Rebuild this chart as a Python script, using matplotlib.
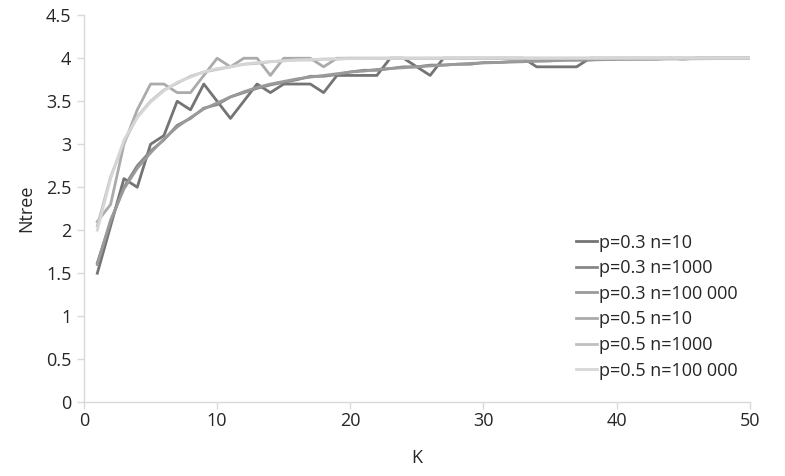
import matplotlib
matplotlib.use("Agg")
import matplotlib.pyplot as plt
from matplotlib.ticker import FuncFormatter, MultipleLocator

plt.rcParams["font.family"] = ["Open Sans", "DejaVu Sans"]

k = list(range(1, 51))

p03_n10 = [1.5, 2.05, 2.6, 2.5, 3.0, 3.1, 3.5, 3.4, 3.7, 3.5,
           3.3, 3.5, 3.7, 3.6, 3.7, 3.7, 3.7, 3.6, 3.8, 3.8,
           3.8, 3.8, 4.0, 4.0, 3.9, 3.8, 4.0, 4.0, 4.0, 4.0,
           4.0, 4.0, 4.0, 3.9, 3.9, 3.9, 3.9, 4.0, 4.0, 4.0,
           4.0, 4.0, 4.0, 4.0, 4.0, 4.0, 4.0, 4.0, 4.0, 4.0]
p03_n1000 = [1.62, 2.1, 2.5, 2.75, 2.92, 3.05, 3.22, 3.3, 3.42, 3.46,
             3.55, 3.6, 3.65, 3.69, 3.72, 3.75, 3.79, 3.79, 3.81, 3.84,
             3.86, 3.86, 3.88, 3.9, 3.9, 3.92, 3.92, 3.93, 3.93, 3.95,
             3.95, 3.96, 3.96, 3.97, 3.97, 3.98, 3.98, 3.98, 3.99, 3.99,
             3.99, 3.99, 3.99, 4.0, 3.99, 4.0, 4.0, 4.0, 4.0, 4.0]
p03_n100000 = [1.6, 2.12, 2.48, 2.72, 2.9, 3.06, 3.2, 3.31, 3.41, 3.48,
               3.55, 3.61, 3.66, 3.7, 3.73, 3.76, 3.78, 3.8, 3.82, 3.84,
               3.85, 3.87, 3.88, 3.89, 3.9, 3.91, 3.92, 3.93, 3.94, 3.945,
               3.95, 3.955, 3.96, 3.965, 3.97, 3.975, 3.978, 3.98, 3.983, 3.986,
               3.988, 3.99, 3.991, 3.992, 3.993, 3.994, 3.995, 3.996, 3.996, 3.997]
p05_n10 = [2.1, 2.3, 3.0, 3.4, 3.7, 3.7, 3.6, 3.6, 3.8, 4.0,
           3.9, 4.0, 4.0, 3.8, 4.0, 4.0, 4.0, 3.9, 4.0, 4.0,
           4.0, 4.0, 4.0, 4.0, 4.0, 4.0, 4.0, 4.0, 4.0, 4.0,
           4.0, 4.0, 4.0, 4.0, 4.0, 4.0, 4.0, 4.0, 4.0, 4.0,
           4.0, 4.0, 4.0, 4.0, 4.0, 4.0, 4.0, 4.0, 4.0, 4.0]
p05_n1000 = [2.05, 2.62, 3.02, 3.32, 3.5, 3.63, 3.71, 3.79, 3.84, 3.87,
             3.9, 3.93, 3.94, 3.96, 3.97, 3.98, 3.98, 3.99, 3.99, 4.0,
             4.0, 4.0, 4.0, 4.0, 4.0, 4.0, 4.0, 4.0, 4.0, 4.0,
             4.0, 4.0, 4.0, 4.0, 4.0, 4.0, 4.0, 4.0, 4.0, 4.0,
             4.0, 4.0, 4.0, 4.0, 4.0, 4.0, 4.0, 4.0, 4.0, 4.0]
p05_n100000 = [2.0, 2.6, 3.05, 3.31, 3.49, 3.62, 3.72, 3.78, 3.84, 3.88,
               3.9, 3.93, 3.95, 3.96, 3.97, 3.98, 3.985, 3.99, 3.992, 3.995,
               3.996, 3.997, 3.998, 3.998, 3.999, 4.0, 4.0, 4.0, 4.0, 4.0,
               4.0, 4.0, 4.0, 4.0, 4.0, 4.0, 4.0, 4.0, 4.0, 4.0,
               4.0, 4.0, 4.0, 4.0, 4.0, 4.0, 4.0, 4.0, 4.0, 4.0]

series = [
    ("p=0.3 n=10", p03_n10, "#747474"),
    ("p=0.3 n=1000", p03_n1000, "#878787"),
    ("p=0.3 n=100 000", p03_n100000, "#9a9a9a"),
    ("p=0.5 n=10", p05_n10, "#ababab"),
    ("p=0.5 n=1000", p05_n1000, "#c0c0c0"),
    ("p=0.5 n=100 000", p05_n100000, "#d6d6d6"),
]

fig = plt.figure(figsize=(7.85, 4.76), dpi=100)
ax = fig.add_axes([0.107, 0.155, 0.848, 0.813])

for label, vals, color in series:
    ax.plot(k, vals, color=color, linewidth=2.0, label=label)

ax.set_xlim(0, 50)
ax.set_ylim(0, 4.5)
ax.xaxis.set_major_locator(MultipleLocator(10))
ax.yaxis.set_major_locator(MultipleLocator(0.5))
ax.yaxis.set_major_formatter(FuncFormatter(lambda v, _: f"{v:g}"))

for side in ("top", "right"):
    ax.spines[side].set_visible(False)
for side in ("left", "bottom"):
    ax.spines[side].set_color("#d9d9d9")
    ax.spines[side].set_linewidth(1.0)
ax.tick_params(axis="both", direction="out", length=5, width=1.0, color="#d9d9d9",
               labelsize=13, labelcolor="#262626")
ax.tick_params(axis="x", pad=2)
ax.tick_params(axis="y", pad=4)

ax.set_xlabel("K", fontsize=13, color="#262626", labelpad=14)
ax.set_ylabel("Ntree", fontsize=13, color="#262626", labelpad=8)

ax.legend(loc="upper left", bbox_to_anchor=(0.725, 0.459), frameon=False,
          fontsize=13, handlelength=1.2, handletextpad=0.1,
          labelspacing=0.42, borderpad=0.0, labelcolor="#262626")

fig.savefig("out.png", dpi=100)
